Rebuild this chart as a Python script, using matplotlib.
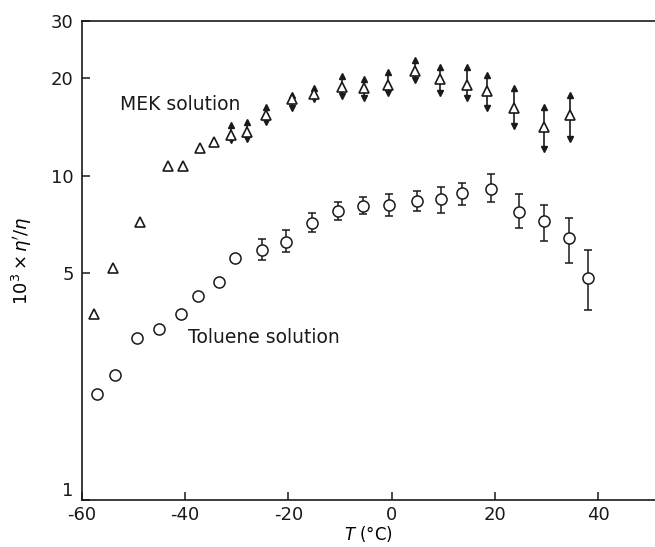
import matplotlib
matplotlib.use("Agg")
import matplotlib.pyplot as plt
import numpy as np

plt.rcParams['axes.unicode_minus'] = False
plt.rcParams['font.family'] = ['DejaVu Sans']

# MEK solution (triangles)
mek_T = [-57.7, -54.0, -48.7, -43.3, -40.4, -37.1, -34.5, -31.1, -28.0, -24.3, -19.4, -15.1,
         -9.7, -5.4, -0.8, 4.5, 9.3, 14.6, 18.4, 23.7, 29.5, 34.6]
mek_y = [3.75, 5.2, 7.2, 10.7, 10.7, 12.2, 12.7, 13.4, 13.6, 15.4, 17.2, 17.9,
         18.8, 18.6, 19.1, 21.1, 19.9, 19.1, 18.3, 16.2, 14.1, 15.4]
mek_hi = [None] * 7 + [14.3, 14.6, 16.3, 17.8, 18.7, 20.3, 19.9, 20.9, 22.8, 21.7, 21.6, 20.5, 18.6, 16.3, 17.8]
mek_lo = [None] * 7 + [12.9, 13.0, 14.6, 16.2, 17.2, 17.6, 17.4, 18.0, 19.8, 18.0, 17.4, 16.2, 14.2, 12.1, 13.0]

# Toluene solution (circles)
tol_T = [-57.1, -53.6, -49.3, -45.0, -40.8, -37.5, -33.4, -30.3, -25.1, -20.4, -15.4,
         -10.5, -5.6, -0.6, 4.9, 9.5, 13.6, 19.2, 24.7, 29.5, 34.4, 38.1]
tol_y = [2.12, 2.43, 3.16, 3.37, 3.75, 4.26, 4.71, 5.59, 5.92, 6.25, 7.16,
         7.8, 8.08, 8.14, 8.35, 8.5, 8.87, 9.1, 7.75, 7.25, 6.43, 4.84]
tol_hi = [None] * 8 + [6.4, 6.8, 7.7, 8.3, 8.6, 8.8, 9.0, 9.2, 9.5, 10.1, 8.8, 8.1, 7.4, 5.9]
tol_lo = [None] * 8 + [5.5, 5.8, 6.7, 7.3, 7.6, 7.5, 7.8, 7.7, 8.1, 8.3, 6.9, 6.3, 5.4, 3.86]

xticks = [-60, -40, -20, 0, 20, 40]
xticklabels = ['-60', '-40', '-20', '0', '20', '40']
yticks = [1, 5, 10, 20, 30]
yticklabels = ['1', '5', '10', '20', '30']

fig = plt.figure(figsize=(6.55, 5.47), dpi=100)
ax = fig.add_axes([0.1252, 0.0859, 0.8748, 0.8757])
ax.set_yscale('log')
ax.set_xlim(-60, 51)
ax.set_ylim(1, 30)

k = '#1a1a1a'

def with_err(T, y, hi, lo):
    idx = [i for i in range(len(T)) if hi[i] is not None]
    t = np.array([T[i] for i in idx])
    v = np.array([y[i] for i in idx])
    h = np.array([hi[i] for i in idx])
    l = np.array([lo[i] for i in idx])
    return t, v, h, l

# MEK error bars with arrow heads
t, v, h, l = with_err(mek_T, mek_y, mek_hi, mek_lo)
ax.errorbar(t, v, yerr=[v - l, h - v], fmt='none', ecolor=k, elinewidth=1.2, capsize=0)
ax.plot(t, h, linestyle='none', marker='^', markersize=4, color=k)
ax.plot(t, l, linestyle='none', marker='v', markersize=4, color=k)
ax.plot(mek_T, mek_y, linestyle='none', marker='^', markersize=6.5, markerfacecolor='white',
        markeredgecolor=k, markeredgewidth=1.2)

# Toluene error bars with caps
t, v, h, l = with_err(tol_T, tol_y, tol_hi, tol_lo)
ax.errorbar(t, v, yerr=[v - l, h - v], fmt='none', ecolor=k, elinewidth=1.1, capsize=3, capthick=1.1)
ax.plot(tol_T, tol_y, linestyle='none', marker='o', markersize=8, markerfacecolor='white',
        markeredgecolor=k, markeredgewidth=1.1)

ax.text(-52.6, 16.6, 'MEK solution', fontsize=13.5, color=k, va='center', ha='left')
ax.text(-39.5, 3.16, 'Toluene solution', fontsize=13.5, color=k, va='center', ha='left')

ax.spines['right'].set_visible(False)
for s in ['left', 'top', 'bottom']:
    ax.spines[s].set_linewidth(1.2)
    ax.spines[s].set_color(k)

ax.set_xticks(xticks)
ax.set_xticklabels(xticklabels, fontsize=13)
ax.set_yticks(yticks)
ax.set_yticklabels(yticklabels, fontsize=13)
ax.yaxis.set_minor_locator(matplotlib.ticker.NullLocator())
ax.tick_params(axis='both', direction='in', length=6, width=1.1, colors=k)
ax.tick_params(axis='x', pad=4, top=False)
ax.tick_params(axis='y', pad=6)
ax.get_yticklabels()[0].set_verticalalignment('bottom')

ax.set_xlabel(r'$\mathit{T}$ (°C)', fontsize=12, labelpad=0)
ax.set_ylabel(r'$10^3 \times \eta^{\prime} / \eta$', fontsize=13, labelpad=12)

fig.savefig('out.png', dpi=100)
